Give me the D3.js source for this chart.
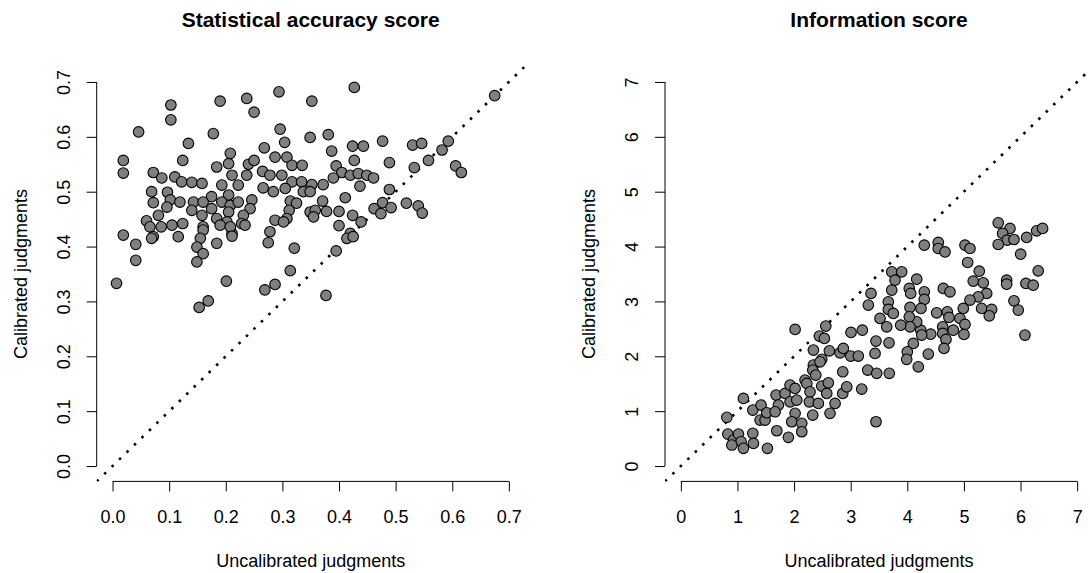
<!DOCTYPE html>
<html><head><meta charset="utf-8">
<script src="https://cdn.jsdelivr.net/npm/d3@7"></script>
<style>
html,body{margin:0;padding:0;background:#fff;}
svg{display:block;font-family:"Liberation Sans",Arial,sans-serif;}
</style></head>
<body><svg id="c" width="1090" height="573"></svg>
<script>
// ---- Data ----
const titles = ["Statistical accuracy score", "Information score"];
const xLabel = "Uncalibrated judgments";
const yLabel = "Calibrated judgments";
const saTicks = [0, 0.1, 0.2, 0.3, 0.4, 0.5, 0.6, 0.7];
const infTicks = [0, 1, 2, 3, 4, 5, 6, 7];

const saUncal = [0.103,0.103,0.046,0.019,0.019,0.190,0.237,0.250,0.294,0.296,0.304,0.352,0.349,0.178,0.134,0.124,0.072,0.087,0.110,0.122,0.140,0.158,0.069,0.072,0.097,0.102,0.119,0.096,0.081,0.060,0.066,0.086,0.105,0.124,0.143,0.140,0.158,0.160,0.175,0.193,0.184,0.205,0.208,0.211,0.222,0.237,0.240,0.250,0.268,0.265,0.266,0.278,0.287,0.308,0.299,0.317,0.335,0.317,0.334,0.284,0.305,0.337,0.314,0.325,0.312,0.308,0.287,0.302,0.278,0.205,0.193,0.208,0.222,0.246,0.243,0.231,0.205,0.184,0.202,0.190,0.228,0.211,0.175,0.160,0.019,0.072,0.116,0.349,0.041,0.041,0.007,0.069,0.160,0.155,0.149,0.160,0.149,0.184,0.208,0.211,0.234,0.275,0.321,0.314,0.287,0.269,0.201,0.169,0.153,0.427,0.381,0.387,0.424,0.443,0.477,0.427,0.395,0.405,0.390,0.420,0.434,0.449,0.461,0.437,0.372,0.352,0.349,0.489,0.530,0.546,0.593,0.582,0.558,0.533,0.606,0.616,0.489,0.411,0.371,0.358,0.378,0.400,0.355,0.424,0.439,0.400,0.420,0.462,0.477,0.492,0.474,0.519,0.540,0.547,0.675,0.414,0.425,0.395,0.377];
const saCal = [0.658,0.631,0.609,0.557,0.534,0.665,0.670,0.645,0.682,0.614,0.590,0.665,0.599,0.606,0.588,0.557,0.535,0.525,0.527,0.518,0.517,0.515,0.500,0.480,0.499,0.485,0.481,0.472,0.457,0.447,0.436,0.436,0.439,0.442,0.481,0.466,0.457,0.436,0.491,0.512,0.545,0.551,0.570,0.530,0.512,0.530,0.550,0.557,0.580,0.537,0.507,0.530,0.563,0.563,0.530,0.548,0.548,0.518,0.518,0.500,0.506,0.500,0.483,0.479,0.466,0.451,0.448,0.445,0.427,0.494,0.481,0.475,0.481,0.485,0.469,0.457,0.463,0.451,0.445,0.439,0.442,0.424,0.469,0.481,0.421,0.418,0.418,0.463,0.404,0.375,0.333,0.415,0.430,0.415,0.399,0.387,0.372,0.406,0.436,0.419,0.439,0.407,0.397,0.356,0.331,0.321,0.337,0.301,0.289,0.690,0.604,0.574,0.583,0.583,0.592,0.557,0.547,0.535,0.525,0.530,0.533,0.530,0.525,0.510,0.513,0.513,0.500,0.553,0.585,0.588,0.592,0.576,0.557,0.544,0.547,0.535,0.504,0.489,0.483,0.466,0.464,0.464,0.454,0.457,0.445,0.438,0.424,0.469,0.480,0.471,0.460,0.479,0.474,0.461,0.675,0.415,0.418,0.392,0.311];

const infUncal = [3.359,3.312,3.518,2.018,2.560,2.447,2.535,3.006,3.206,3.447,2.341,2.623,2.489,2.812,2.870,3.001,3.135,3.430,2.341,2.330,2.383,2.860,3.301,3.460,2.194,5.606,5.813,5.684,5.765,5.884,5.606,6.108,6.284,6.390,6.002,6.312,5.755,5.755,6.095,6.224,5.884,5.960,6.078,4.300,4.547,4.547,4.666,5.019,5.107,5.066,5.271,5.165,5.342,5.402,5.253,5.107,4.989,5.313,5.490,5.448,3.725,3.901,3.783,4.166,3.725,4.035,4.060,4.300,4.300,4.636,4.754,3.665,3.665,3.753,4.048,4.242,4.519,4.706,4.736,4.930,5.019,5.001,4.812,4.625,4.625,4.683,4.648,4.413,4.237,4.254,4.166,4.035,4.048,3.883,3.636,4.106,4.000,3.989,4.371,4.194,3.677,3.682,1.105,0.812,0.830,0.929,1.017,1.064,1.105,0.900,1.271,1.417,1.271,1.282,1.529,1.400,1.488,1.518,1.682,1.723,1.665,1.695,1.841,1.929,1.929,2.018,1.959,1.899,2.048,2.018,2.224,2.270,2.136,2.136,2.330,2.429,2.282,2.489,2.605,2.577,2.724,2.635,2.860,2.930,3.195,3.447,2.459];
const infCal = [3.146,2.933,2.690,2.490,2.550,2.368,2.326,2.435,2.477,2.277,2.113,2.100,1.944,2.064,2.144,2.004,2.004,2.053,1.840,1.749,1.658,1.718,1.749,1.689,1.566,4.432,4.330,4.239,4.117,4.129,4.038,4.166,4.286,4.330,3.862,3.557,3.388,3.315,3.328,3.297,3.011,2.842,2.386,4.026,4.075,3.965,3.903,4.026,3.965,3.710,3.552,3.370,3.339,3.146,3.084,3.024,2.872,2.872,2.854,2.738,3.539,3.539,3.388,3.406,3.206,3.237,3.146,3.175,3.036,3.237,3.175,2.993,2.854,2.781,2.891,2.873,2.792,2.811,2.709,2.690,2.581,2.399,2.477,2.537,2.417,2.308,2.144,2.404,2.477,2.386,2.628,2.719,2.537,2.568,2.537,2.235,2.082,1.944,2.040,1.809,2.246,1.689,1.233,0.887,0.583,0.474,0.583,0.443,0.322,0.383,1.020,1.111,0.596,0.413,0.322,0.838,0.838,0.971,1.293,1.111,0.989,0.643,1.324,1.171,1.475,0.960,0.807,0.523,1.202,1.415,1.506,1.171,0.778,0.625,0.929,1.142,1.353,1.457,1.517,1.324,1.142,0.960,1.324,1.444,1.403,0.807,1.900];

// ---- Layout ----
const svg = d3.select("#c");
const yTop = 66.6, yBot = 481.4;
const panels = [
  {title: titles[0], xs: saUncal, ys: saCal, ticks: saTicks, fmt: d3.format(".1f"), left: 96.7, right: 524.7},
  {title: titles[1], xs: infUncal, ys: infCal, ticks: infTicks, fmt: d3.format("d"), left: 665, right: 1093}
];

panels.forEach((p, i) => {
  const t0 = p.ticks[0], t1 = p.ticks[p.ticks.length - 1];
  const pad = (t1 - t0) * 0.04;
  const dom = [t0 - pad, t1 + pad];
  const x = d3.scaleLinear().domain(dom).range([p.left, p.right]);
  const y = d3.scaleLinear().domain(dom).range([yBot, yTop]);
  const cx = (p.left + p.right) / 2;

  const clipId = "clip" + i;
  svg.append("clipPath").attr("id", clipId).append("rect")
    .attr("x", p.left).attr("y", yTop).attr("width", p.right - p.left).attr("height", yBot - yTop);

  // dotted identity line
  svg.append("line")
    .attr("clip-path", `url(#${clipId})`)
    .attr("x1", x(dom[0])).attr("y1", y(dom[0]))
    .attr("x2", x(dom[1])).attr("y2", y(dom[1]))
    .attr("stroke", "#000").attr("stroke-width", 2.6)
    .attr("stroke-dasharray", "2.6,7.8");

  // points
  svg.append("g").selectAll("circle")
    .data(p.xs.map((v, k) => [v, p.ys[k]]))
    .join("circle")
    .attr("cx", d => x(d[0])).attr("cy", d => y(d[1]))
    .attr("r", 5.3)
    .attr("fill", "#7f7f7f").attr("stroke", "#000").attr("stroke-width", 1.1);

  // x axis
  const gx = svg.append("g").attr("transform", `translate(0,${yBot})`)
    .call(d3.axisBottom(x).tickValues(p.ticks).tickFormat(p.fmt).tickSize(10).tickSizeOuter(0));
  gx.select(".domain").remove();
  gx.append("line").attr("x1", x(t0)).attr("x2", x(t1)).attr("stroke", "#000");
  gx.selectAll(".tick line").attr("stroke", "#000");
  gx.selectAll(".tick text").attr("y", 35).attr("dy", "0.35em")
    .attr("font-size", 18).attr("font-family", "Liberation Sans, Arial, sans-serif").attr("fill", "#000");

  // y axis
  const gy = svg.append("g").attr("transform", `translate(${p.left},0)`)
    .call(d3.axisLeft(y).tickValues(p.ticks).tickFormat(p.fmt).tickSize(10).tickSizeOuter(0));
  gy.select(".domain").remove();
  gy.append("line").attr("y1", y(t0)).attr("y2", y(t1)).attr("stroke", "#000");
  gy.selectAll(".tick line").attr("stroke", "#000");
  gy.selectAll(".tick text")
    .attr("x", null).attr("dy", "0.35em").attr("text-anchor", "middle")
    .attr("transform", "translate(-33.5,0) rotate(-90)")
    .attr("font-size", 18).attr("font-family", "Liberation Sans, Arial, sans-serif").attr("fill", "#000");

  // axis titles
  svg.append("text").attr("x", cx).attr("y", 561).attr("dy", "0.35em")
    .attr("text-anchor", "middle").attr("font-size", 18).attr("fill", "#000").text(xLabel);
  svg.append("text")
    .attr("transform", `translate(${p.left - 76},${(yTop + yBot) / 2}) rotate(-90)`)
    .attr("dy", "0.35em").attr("text-anchor", "middle").attr("font-size", 18).attr("fill", "#000").text(yLabel);

  // main title
  svg.append("text").attr("x", cx).attr("y", 20).attr("dy", "0.35em")
    .attr("text-anchor", "middle").attr("font-size", 21).attr("font-weight", "bold").attr("fill", "#000").text(p.title);
});
</script></body></html>
